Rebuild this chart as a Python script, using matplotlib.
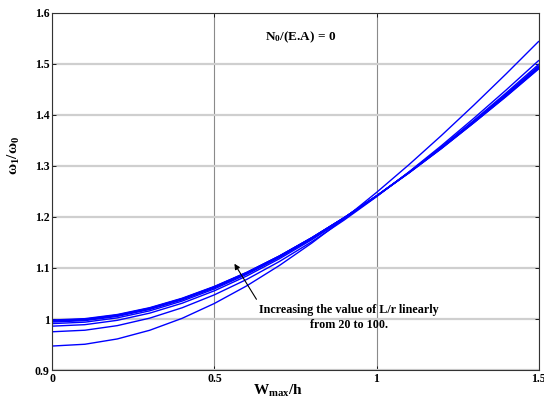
import matplotlib
matplotlib.use('Agg')
import matplotlib.pyplot as plt
import matplotlib.ticker as ticker

plt.rcParams['font.family'] = ['Liberation Serif', 'DejaVu Serif']
plt.rcParams['mathtext.fontset'] = 'custom'
plt.rcParams['mathtext.rm'] = 'Liberation Serif'
plt.rcParams['mathtext.it'] = 'Liberation Serif:italic'
plt.rcParams['mathtext.bf'] = 'Liberation Serif:bold'

# W_max/h values
w_ratio = [0.0, 0.1, 0.2, 0.3, 0.4, 0.5, 0.6, 0.7, 0.8, 0.9,
           1.0, 1.1, 1.2, 1.3, 1.4, 1.5]

# slenderness ratios L/r
slenderness = [20, 30, 40, 50, 60, 70, 80, 90, 100]

# omega_1/omega_0 for each L/r
freq_lr20 = [0.9470, 0.9505, 0.9609, 0.9779, 1.0013, 1.0306, 1.0652, 1.1048,
             1.1488, 1.1967, 1.2481, 1.3025, 1.3596, 1.4191, 1.4806, 1.5440]
freq_lr30 = [0.9750, 0.9780, 0.9870, 1.0017, 1.0220, 1.0475, 1.0778, 1.1126,
             1.1514, 1.1939, 1.2397, 1.2884, 1.3397, 1.3933, 1.4490, 1.5065]
freq_lr40 = [0.9860, 0.9889, 0.9974, 1.0115, 1.0309, 1.0554, 1.0845, 1.1180,
             1.1553, 1.1963, 1.2405, 1.2875, 1.3372, 1.3892, 1.4432, 1.4990]
freq_lr50 = [0.9910, 0.9938, 1.0022, 1.0160, 1.0351, 1.0591, 1.0877, 1.1205,
             1.1573, 1.1976, 1.2411, 1.2874, 1.3364, 1.3876, 1.4409, 1.4960]
freq_lr60 = [0.9940, 0.9968, 1.0051, 1.0187, 1.0375, 1.0613, 1.0895, 1.1220,
             1.1584, 1.1983, 1.2413, 1.2873, 1.3357, 1.3865, 1.4394, 1.4940]
freq_lr70 = [0.9955, 0.9983, 1.0065, 1.0201, 1.0388, 1.0623, 1.0905, 1.1228,
             1.1589, 1.1986, 1.2415, 1.2872, 1.3354, 1.3860, 1.4386, 1.4930]
freq_lr80 = [0.9965, 0.9992, 1.0074, 1.0209, 1.0396, 1.0630, 1.0910, 1.1232,
             1.1592, 1.1987, 1.2414, 1.2869, 1.3350, 1.3854, 1.4378, 1.4920]
freq_lr90 = [0.9970, 0.9997, 1.0079, 1.0214, 1.0399, 1.0633, 1.0912, 1.1233,
             1.1592, 1.1985, 1.2411, 1.2865, 1.3344, 1.3847, 1.4369, 1.4910]
freq_lr100 = [0.9980, 1.0007, 1.0088, 1.0222, 1.0407, 1.0640, 1.0917, 1.1236,
              1.1594, 1.1986, 1.2410, 1.2862, 1.3339, 1.3845, 1.4361, 1.4900]

curves = [freq_lr20, freq_lr30, freq_lr40, freq_lr50, freq_lr60,
          freq_lr70, freq_lr80, freq_lr90, freq_lr100]

x_ticks = [0, 0.5, 1, 1.5]
x_tick_labels = ['0', '0.5', '1', '1.5']
y_ticks = [0.9, 1.0, 1.1, 1.2, 1.3, 1.4, 1.5, 1.6]
y_tick_labels = ['0.9', '1', '1.1', '1.2', '1.3', '1.4', '1.5', '1.6']

fig = plt.figure(figsize=(5.44, 4.01), dpi=100)
ax = fig.add_axes([0.0965, 0.0773, 0.8934, 0.8903])

for lr, y in zip(slenderness, curves):
    ax.plot(w_ratio, y, color='#0000ff', lw=1.0, label='L/r = {}'.format(lr))

ax.set_xlim(0, 1.5)
ax.set_ylim(0.9, 1.6)
ax.set_xticks(x_ticks)
ax.set_xticklabels(x_tick_labels)
ax.set_yticks(y_ticks)
ax.set_yticklabels(y_tick_labels)
ax.xaxis.set_minor_locator(ticker.NullLocator())

ax.yaxis.grid(True, color='#cfcfcf', lw=1.6)
ax.xaxis.grid(True, color='#8a8a8a', lw=0.8)
ax.set_axisbelow(True)

ax.tick_params(direction='in', length=3, width=0.6, top=True, right=True,
               labelsize=8.5, pad=2)
for lab in ax.get_xticklabels() + ax.get_yticklabels():
    lab.set_fontweight('bold')
for s in ax.spines.values():
    s.set_linewidth(0.8)
    s.set_color('#333333')

ax.set_xlabel(r'$\mathbf{W_{max}/h}$', fontsize=11)
ax.xaxis.set_label_coords(0.464, -0.035)
ax.set_ylabel(r'$\mathbf{\omega_1/\omega_0}$', fontsize=11)
ax.yaxis.set_label_coords(-0.062, 0.6)

ax.text(0.656, 1.553, r'N$_\mathbf{0}$/(E.A) = 0', fontsize=9.5,
        fontweight='bold', ha='left', va='center')

ax.annotate('', xy=(0.557, 1.113), xytext=(0.634, 1.034),
            arrowprops=dict(arrowstyle='-|>', color='black', lw=0.8,
                            mutation_scale=8))
ax.text(0.915, 1.003, 'Increasing the value of L/r linearly\nfrom 20 to 100.',
        fontsize=8.7, fontweight='bold', ha='center', va='center',
        multialignment='center', linespacing=1.3)

fig.savefig('out.png', dpi=100, facecolor='white')
